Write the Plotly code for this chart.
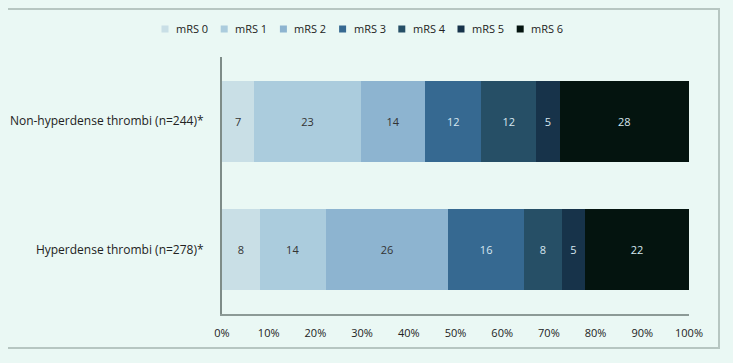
import plotly.graph_objects as go

categories = ["Hyperdense thrombi (n=278)*", "Non-hyperdense thrombi (n=244)*"]
series_names = ["mRS 0", "mRS 1", "mRS 2", "mRS 3", "mRS 4", "mRS 5", "mRS 6"]
# values per series: [Hyperdense, Non-hyperdense]
mrs0 = [8, 7]
mrs1 = [14, 23]
mrs2 = [26, 14]
mrs3 = [16, 12]
mrs4 = [8, 12]
mrs5 = [5, 5]
mrs6 = [22, 28]
series_values = [mrs0, mrs1, mrs2, mrs3, mrs4, mrs5, mrs6]
tick_vals = [0, 10, 20, 30, 40, 50, 60, 70, 80, 90, 100]
tick_text = ["0%", "10%", "20%", "30%", "40%", "50%", "60%", "70%", "80%", "90%", "100%"]

colors = ["#C9DFE6", "#ABCCDD", "#8DB4D0", "#366991", "#264F66", "#17334A", "#04140F"]
text_colors = ["#333333", "#333333", "#333333", "#D6E7F0", "#D6E7F0", "#D6E7F0", "#D6E7F0"]

BG = "#EAF8F4"
FONT = "Open Sans"
OFF = 8  # page body margin offset
W, H = 733 - OFF, 363 - OFF
ML, MT = 222 - OFF, 57 - OFF
MR = W - (689 - OFF)
MB = H - (314 - OFF)
PW, PH = W - ML - MR, H - MT - MB


def px_x(px):
    # px: window pixel x
    return (px - OFF - ML) / PW


def px_y(py):
    # py: window pixel y
    return (H - MB - (py - OFF)) / PH


fig = go.Figure()
for name, vals, c, tc in zip(series_names, series_values, colors, text_colors):
    fig.add_trace(go.Bar(
        y=categories, x=vals, name=name, orientation="h",
        marker=dict(color=c, line=dict(width=0)),
        text=[str(v) for v in vals], textposition="inside",
        insidetextanchor="middle", textangle=0, constraintext="none",
        textfont=dict(color=tc, size=11, family=FONT),
        showlegend=False, hoverinfo="skip",
    ))

# custom legend (small squares + labels) in a single row
shapes = []
annotations = []
legend_y = px_y(29)
for i, (name, c) in enumerate(zip(series_names, colors)):
    cx = 165 + 59.2 * i
    shapes.append(dict(type="rect", xref="paper", yref="paper",
                       xsizemode="pixel", ysizemode="pixel",
                       xanchor=px_x(cx), yanchor=legend_y,
                       x0=-3.5, x1=3.5, y0=-3.5, y1=3.5,
                       fillcolor=c, line=dict(width=0)))
    annotations.append(dict(xref="paper", yref="paper", x=px_x(cx + 9), y=legend_y,
                            xanchor="left", yanchor="middle", text=name, showarrow=False,
                            font=dict(size=11, color="#222222", family=FONT)))

shapes.append(dict(type="rect", xref="paper", yref="paper",
                   x0=px_x(4), x1=px_x(719), y0=px_y(348), y1=px_y(9),
                   line=dict(color="#B6C6C1", width=2), fillcolor="rgba(0,0,0,0)",
                   layer="below"))

fig.update_layout(
    width=W, height=H,
    barmode="stack", barnorm="percent", bargap=0.37,
    paper_bgcolor=BG, plot_bgcolor=BG,
    margin=dict(l=ML, r=MR, t=MT, b=MB, autoexpand=False),
    font=dict(family=FONT, size=11, color="#222222"),
    showlegend=False,
    xaxis=dict(range=[0, 100], tickvals=tick_vals, ticktext=tick_text,
               showgrid=False, zeroline=False, showline=True, linecolor="#8C9A96",
               linewidth=1.5, ticks="", ticklabelstandoff=8, automargin=False,
               tickfont=dict(size=11)),
    yaxis=dict(showgrid=False, zeroline=False, showline=True, linecolor="#7E8C88",
               linewidth=2, ticks="", ticklabelstandoff=14, automargin=False,
               tickfont=dict(size=12)),
    shapes=shapes,
    annotations=annotations,
)

fig.write_html("out.html", post_script="document.body.style.background='%s';" % BG)
